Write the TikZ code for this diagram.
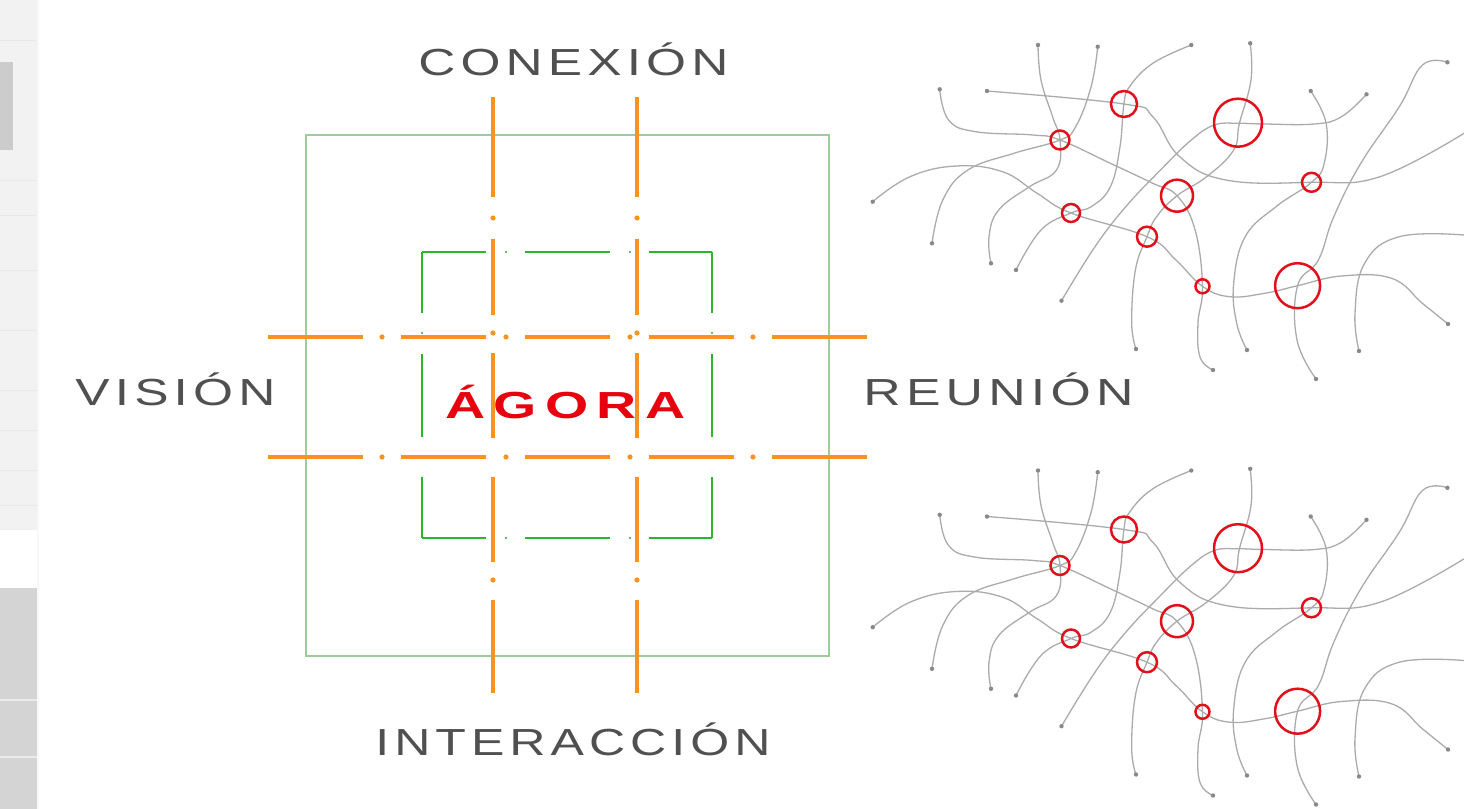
\documentclass[tikz,border=0pt]{standalone}
\usepackage{fontspec}
\usepackage{graphicx}
\setmainfont{Liberation Sans}
\definecolor{orng}{HTML}{F7931E}
\definecolor{grnin}{HTML}{2EB52E}
\definecolor{grnout}{HTML}{9ACD9A}
\definecolor{netgray}{HTML}{ABABAB}
\definecolor{ringred}{HTML}{E2101A}
\definecolor{txtgray}{HTML}{505050}
\definecolor{agred}{HTML}{E8000E}
\newdimen\lsk
\def\spA#1{\ifx\relax#1\else\kern\lsk#1\expandafter\spA\fi}
\def\spB#1{#1\spA}
\newcommand\spaced[1]{\spB#1\relax}
\newsavebox\fitbox
\newcommand\fitw[3]{\lsk=#2\relax\sbox\fitbox{\spaced{#3}}\resizebox{#1}{\ht\fitbox}{\usebox\fitbox}}
\tikzset{
  orngline/.style={draw=orng, line width=2pt, line cap=butt},
  orngdot/.style={fill=orng},
  grnline/.style={draw=grnin, line width=1pt, line cap=butt},
  grnframe/.style={draw=grnout, line width=0.75pt},
  netline/.style={draw=netgray, line width=0.65pt},
  enddot/.style={fill=netgray!80!black},
  ring/.style={circle, draw=ringred, line width=1.25pt, inner sep=0pt},
  lbl/.style={inner sep=0pt, text=txtgray, font=\fontsize{18.85}{20}\selectfont},
  agora/.style={inner sep=0pt, text=agred, font=\fontsize{18.85}{20}\selectfont\bfseries},
  net/.pic={
    \draw[netline] plot[smooth, tension=0.7] coordinates {(987,91) (1123.9,104) (1152.8,116.7) (1179.7,156.7) (1225.9,180) (1311.5,182.3) (1380,176.7) (1464,133.3)};
    \draw[netline] plot[smooth, tension=0.7] coordinates {(939.7,89.3) (948.6,120) (975.6,131.7) (1033.3,135) (1060,140) (1110.4,163.3) (1152.8,183.3) (1177,195.7) (1195.1,230) (1202.5,286.3) (1198,323) (1200,357) (1213,370)};
    \draw[netline] plot[smooth, tension=0.7] coordinates {(1038,45) (1041,80) (1052.6,116.7) (1060,140) (1056.5,170) (1029.5,186.7) (998.7,210) (989,236.7) (991,263.3)};
    \draw[netline] plot[smooth, tension=0.7] coordinates {(1097.7,46.7) (1091.1,86.7) (1075.7,126.7) (1060,140) (1014,153.3) (967.9,170) (942.8,200) (932,243.3)};
    \draw[netline] plot[smooth, tension=0.7] coordinates {(872.7,201.7) (910,176.7) (956.3,166) (1002.5,171.7) (1037.2,193.3) (1071,213) (1147,236.7) (1175.9,260) (1202.5,286.3) (1229.8,296.7) (1264.5,293.3) (1297.6,285.7) (1341.5,276) (1391.6,278.3) (1422.4,303.3) (1448,324)};
    \draw[netline] plot[smooth, tension=0.7] coordinates {(1191.3,45) (1152.8,63.3) (1129.6,86.7) (1123.9,104) (1120,146.7) (1110.4,186.7) (1091.1,206.7) (1071,213) (1041,230) (1016,270)};
    \draw[netline] plot[smooth, tension=0.7] coordinates {(1250.2,43.3) (1251,80) (1239.4,123.3) (1233.7,150) (1206.7,176.7) (1177,195.7) (1156.6,216.7) (1147,236.7) (1135.4,270) (1131.7,323) (1136,349)};
    \draw[netline] plot[smooth, tension=0.7] coordinates {(1366.5,94.3) (1341.5,116.7) (1314.5,124) (1264.5,124) (1238.3,123.3) (1214.4,125) (1191.3,140) (1160.5,170) (1125.8,206.7) (1095,246.7) (1061.5,300.7)};
    \draw[netline] plot[smooth, tension=0.7] coordinates {(1310.7,91) (1326.1,123.3) (1324.2,163.3) (1311.5,182.3) (1276,206.7) (1245.2,236.7) (1233.7,283.3) (1236.7,323.3) (1247,350)};
    \draw[netline] plot[smooth, tension=0.7] coordinates {(1447.4,62.3) (1422.4,65) (1399.3,106.7) (1360.8,163.3) (1333.8,216.7) (1318.4,260) (1297.6,285.7) (1297,340) (1316,379)};
    \draw[netline] plot[smooth, tension=0.7] coordinates {(1464,235) (1399.3,236.7) (1364.6,263.3) (1355,313.3) (1359,351)};
    \foreach \p in {(987,91),(939.7,89.3),(1213,370),(1038,45),(991,263.3),(1097.7,46.7),(932,243.3),(872.7,201.7),(1448,324),(1191.3,45),(1016,270),(1250.2,43.3),(1136,349),(1366.5,94.3),(1061.5,300.7),(1310.7,91),(1247,350),(1447.4,62.3),(1316,379),(1359,351)}
      \fill[enddot] \p circle (1.1pt);
    \node[ring, minimum size=13pt] (-c1) at (1124,104) {};
    \node[ring, minimum size=24pt] (-c2) at (1238,122.7) {};
    \node[ring, minimum size=9.5pt] (-c3) at (1060,140) {};
    \node[ring, minimum size=16pt] (-c4) at (1177,195.7) {};
    \node[ring, minimum size=9.5pt] (-c5) at (1311.5,182.3) {};
    \node[ring, minimum size=9pt] (-c6) at (1071,213) {};
    \node[ring, minimum size=10pt] (-c7) at (1147,236.7) {};
    \node[ring, minimum size=7pt] (-c8) at (1202.5,286.3) {};
    \node[ring, minimum size=22.5pt] (-c9) at (1297.6,285.7) {};
  }
}
\begin{document}
\begin{tikzpicture}[x=0.5pt, y=-0.5pt]
\useasboundingbox (0,0) rectangle (1464,809);
\fill[white] (0,0) rectangle (1464,809);
% left strip
\fill[black!5] (0,0) rectangle (38,530);
\foreach \yy in {40,180,215,270,330,390,430,470,505}
  \draw[black!9, line width=0.4pt] (0,\yy) -- (38,\yy);
\fill[black!20] (0,62) rectangle (13,150);
\fill[black!17] (0,588) rectangle (38,809);
\draw[black!8, line width=0.6pt] (0,700) -- (38,700);
\draw[black!8, line width=0.6pt] (0,757) -- (38,757);
\draw[black!3, line width=1pt] (38,0) -- (38,809);
% frames
\draw[grnframe] (306,135) rectangle (829,656);
\foreach \yy in {252,538}{
  \foreach \a/\b in {422/486,525/610,649/712}
    \draw[grnline] (\a,\yy) -- (\b,\yy);
  \foreach \d in {506,630}
    \fill[grnin] (\d,\yy) circle (0.6pt);
}
\foreach \xx in {422,712}{
  \foreach \a/\b in {252/313,354/437,477/538}
    \draw[grnline] (\xx,\a) -- (\xx,\b);
  \fill[grnin] (\xx,333) circle (0.6pt);
}
% orange axes
\foreach \yy in {337,457}{
  \foreach \a/\b in {268/363,401/486,525/610,649/734,772/867}
    \draw[orngline] (\a,\yy) -- (\b,\yy);
  \foreach \d in {382,506,630,753}
    \fill[orngdot] (\d,\yy) circle (1.3pt);
}
\foreach \xx in {493,637}{
  \foreach \a/\b in {97/197,239/315,353/438,477/562,600/693}
    \draw[orngline] (\xx,\a) -- (\xx,\b);
  \foreach \d in {218,333,580}
    \fill[orngdot] (\xx,\d) circle (1.3pt);
}
% labels
\node[lbl, anchor=base west] (conexion) at (418,75) {\fitw{155pt}{0.1em}{CONEXIÓN}};
\node[lbl, anchor=base west] (vision) at (75,405) {\fitw{100pt}{0.1em}{VISIÓN}};
\node[lbl, anchor=base west] (reunion) at (863,405) {\fitw{135pt}{0.1em}{REUNIÓN}};
\node[lbl, anchor=base west] (interaccion) at (375,755) {\fitw{197.5pt}{0.1em}{INTERACCIÓN}};
\node[agora, anchor=base west] (agoratxt) at (445,418) {\fitw{120pt}{0.15em}{ÁGORA}};
% networks
\pic (top) at (0,0) {net};
\pic (bot) at (0,425.5) {net};
\end{tikzpicture}
\end{document}
